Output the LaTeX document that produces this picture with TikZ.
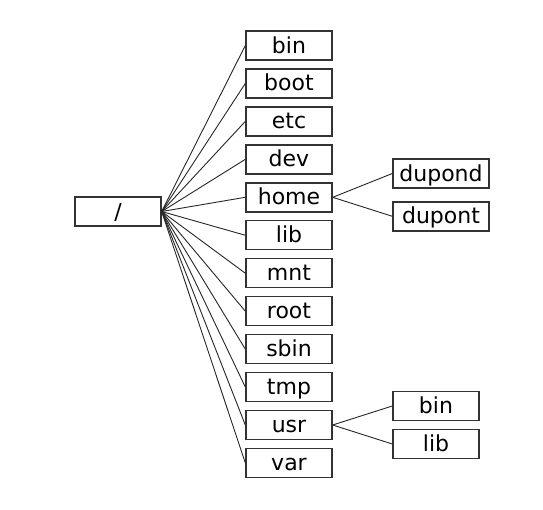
\documentclass[tikz,border=0pt]{standalone}
\usepackage{fontspec}
\setsansfont{DejaVu Sans}
\usepackage{tikz}

\begin{document}
\begin{tikzpicture}[x=0.5pt,y=-0.5pt,
    dir/.style={draw=black!80,line width=0.7pt,minimum width=43pt,minimum height=14.5pt,
        inner sep=1pt,text height=10pt,text depth=2.5pt,font=\sffamily\fontsize{11}{13}\selectfont},
    link/.style={black!85,line width=0.45pt}]
    \useasboundingbox (0,0) rectangle (543,510);
    \node (slash) [dir] at (118,211.5) {/};
    \foreach \name [count=\i from 0] in {bin,boot,etc,dev,home,lib,mnt,root,sbin,tmp,usr,var} {
        \node (\name) [dir] at (289,45.5+37.95*\i) {\name};
        \draw [link] (slash.east) -- (\name.west);
    }
    % sous-repertoires
    \node (dupond) [dir,minimum width=48pt] at (441,173.5) {dupond};
    \node (dupont) [dir,minimum width=48pt] at (441,216.3) {dupont};
    \node (usrbin) [dir] at (436,406) {bin};
    \node (usrlib) [dir] at (436,444) {lib};
    \draw [link] (home.east) -- (dupond.west);
    \draw [link] (home.east) -- (dupont.west);
    \draw [link] (usr.east) -- (usrbin.west);
    \draw [link] (usr.east) -- (usrlib.west);
\end{tikzpicture}
\end{document}
